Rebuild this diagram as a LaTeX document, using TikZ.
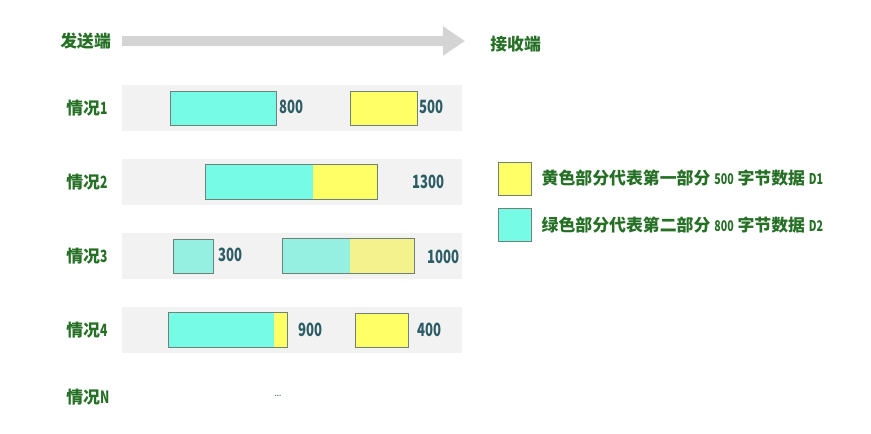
\documentclass[tikz,border=0pt]{standalone}
\usepackage{fontspec}
\usetikzlibrary{positioning, calc, arrows.meta}
\newfontfamily\zhfont{Noto Sans CJK SC}
\newfontfamily\numfont{Noto Sans CJK SC}[FakeStretch=0.72]
\newcommand{\smallnum}[1]{{\fontsize{10.5}{12}\numfont #1}}
\definecolor{LabelGreen}{RGB}{38, 112, 38}
\definecolor{NumTeal}{RGB}{44, 92, 100}
\definecolor{segCyan}{RGB}{118, 252, 230}
\definecolor{segYellow}{RGB}{255, 255, 102}
\definecolor{fadeCyan}{RGB}{150, 240, 226}
\definecolor{fadeYellow}{RGB}{244, 242, 140}
\definecolor{bandGray}{RGB}{242, 242, 242}
\definecolor{edgeGray}{RGB}{110, 130, 120}
\definecolor{flowGray}{RGB}{212, 212, 212}

\begin{document}
\begin{tikzpicture}[x=0.025cm, y=-0.025cm,
          band/.style={fill=bandGray, minimum width=8.5cm, minimum height=1.15cm, inner sep=0},
          seg/.style={minimum height=0.85cm, inner sep=0},
          cy/.style={seg, fill=segCyan},
          yl/.style={seg, fill=segYellow},
          edge/.style={draw=edgeGray, line width=0.6pt},
          flow/.style={flowGray, line width=0.25cm, -{Triangle[length=0.55cm, width=0.7cm]}},
          case/.style={font=\fontsize{12}{14}\zhfont\bfseries, text=LabelGreen, anchor=west, inner sep=0},
          num/.style={font=\fontsize{13}{15}\numfont\bfseries, text=NumTeal, anchor=west, inner sep=0},
          key/.style={draw=edgeGray, line width=0.6pt, minimum width=0.825cm, minimum height=0.825cm, inner sep=0}
        ]
        \useasboundingbox (0,0) rectangle (871,434);

        % sender -> receiver
        \node[case] (snd) at (60,41)  {发送端};
        \node[case] (rcv) at (490,44) {接收端};
        \coordinate (f0) at (122,41);
        \coordinate (f1) at (465,41);
        \draw[flow] (f0) -- (f1);

        % case 1
        \node[case] (r1) at (66,108) {情况{\numfont 1}};
        \node[band] (b1) at (292,108) {};
        \node[cy, edge, minimum width=2.65cm]  (c1) at (223,108)   {};
        \node[yl, edge, minimum width=1.675cm] (y1) at (383.5,108) {};
        \node[num] (n1a) at (279,107) {800};
        \node[num] (n1b) at (419,107) {500};

        % case 2
        \node[case] (r2) at (66,182) {情况{\numfont 2}};
        \node[band] (b2) at (292,182) {};
        \node[cy, minimum width=2.675cm] (c2) at (259.5,182) {};
        \node[yl, minimum width=1.6cm]   (y2) at (345,182)   {};
        \draw[edge] (c2.north west) rectangle (y2.south east);
        \node[num] (n2) at (412,182) {1300};

        % case 3
        \node[case] (r3) at (66,256) {情况{\numfont 3}};
        \node[band] (b3) at (292,256) {};
        \node[seg, fill=fadeCyan, edge, minimum width=1cm] (c3a) at (193,256) {};
        \node[seg, fill=fadeCyan, minimum width=1.675cm]   (c3b) at (316.5,256) {};
        \node[seg, fill=fadeYellow, minimum width=1.6cm]   (y3)  at (382,256)   {};
        \draw[edge] (c3b.north west) rectangle (y3.south east);
        \node[num] (n3a) at (218,255) {300};
        \node[num] (n3b) at (427,257) {1000};

        % case 4
        \node[case] (r4) at (66,330) {情况{\numfont 4}};
        \node[band] (b4) at (292,330) {};
        \node[cy, minimum width=2.625cm] (c4) at (221.5,330) {};
        \node[yl, minimum width=0.325cm] (y4) at (280.5,330) {};
        \draw[edge] (c4.north west) rectangle (y4.south east);
        \node[yl, edge, minimum width=1.325cm] (y4b) at (381.5,330) {};
        \node[num] (n4a) at (298,330) {900};
        \node[num] (n4b) at (417,330) {400};

        % case N
        \node[case] (rN) at (66,397) {情况{\numfont N}};
        \node[font=\fontsize{8}{9}\selectfont, text=NumTeal, inner sep=0] (dots) at (278,396) {\ldots};

        % legend
        \node[key, fill=segYellow] (k1) at (514.5,178.5) {};
        \node[key, fill=segCyan]   (k2) at (514.5,225)   {};
        \node[case, right=0.25cm of k1] (t1) {黄色部分代表第一部分 \smallnum{500} 字节数据 \smallnum{D1}};
        \node[case, right=0.25cm of k2] (t2) {绿色部分代表第二部分 \smallnum{800} 字节数据 \smallnum{D2}};
      \end{tikzpicture}
\end{document}
